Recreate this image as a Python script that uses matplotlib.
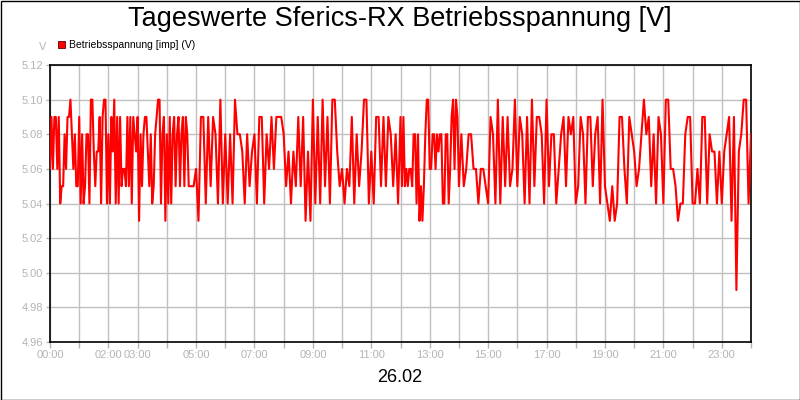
import numpy as np
import matplotlib
matplotlib.use('Agg')
import matplotlib.pyplot as plt
from matplotlib.patches import Rectangle

plt.rcParams['font.family'] = ['Liberation Sans', 'DejaVu Sans']

title = 'Tageswerte Sferics-RX Betriebsspannung [V]'
day_label = '26.02'
series_name = 'Betriebsspannung [imp] (V)'

# 00:00 - 04:45, read every 3 minutes
volts_early = [
    5.06, 5.09, 5.06, 5.09, 5.09, 5.06, 5.09, 5.04, 5.05, 5.05,
    5.08, 5.06, 5.09, 5.09, 5.10, 5.08, 5.06, 5.08, 5.05, 5.05,
    5.09, 5.04, 5.08, 5.04, 5.05, 5.08, 5.08, 5.04, 5.10, 5.10,
    5.07, 5.05, 5.07, 5.07, 5.09, 5.04, 5.09, 5.10, 5.10, 5.04,
    5.08, 5.04, 5.09, 5.07, 5.10, 5.04, 5.09, 5.04, 5.09, 5.05,
    5.06, 5.06, 5.05, 5.09, 5.05, 5.09, 5.04, 5.09, 5.08, 5.07,
    5.09, 5.03, 5.08, 5.05, 5.08, 5.09, 5.09, 5.07, 5.05, 5.08,
    5.04, 5.05, 5.08, 5.09, 5.10, 5.10, 5.04, 5.08, 5.09, 5.03,
    5.08, 5.04, 5.09, 5.04, 5.08, 5.09, 5.05, 5.08, 5.09, 5.05,
    5.08, 5.09, 5.05, 5.09, 5.08, 5.05,
]
# 04:50 - 11:55, read every 5 minutes
volts_morning = [
    5.05, 5.05,
    5.06, 5.03, 5.09, 5.09, 5.04, 5.09, 5.05, 5.09, 5.08, 5.04, 5.10, 5.04,
    5.08, 5.04, 5.08, 5.04, 5.10, 5.08, 5.08, 5.07, 5.04, 5.08, 5.05, 5.07,
    5.08, 5.04, 5.09, 5.09, 5.04, 5.08, 5.06, 5.09, 5.06, 5.09, 5.09, 5.09,
    5.08, 5.05, 5.07, 5.04, 5.07, 5.05, 5.09, 5.05, 5.09, 5.03, 5.07, 5.03,
    5.10, 5.04, 5.09, 5.04, 5.10, 5.05, 5.09, 5.04, 5.10, 5.10, 5.07, 5.05,
    5.06, 5.04, 5.06, 5.05, 5.09, 5.04, 5.08, 5.05, 5.07, 5.10, 5.10, 5.04,
    5.07, 5.04, 5.09, 5.09, 5.05, 5.09, 5.05, 5.09, 5.08, 5.05, 5.08, 5.04,
]
# 12:00 - 14:00, read every 3 minutes
volts_noon = [
    5.09, 5.05, 5.09, 5.05, 5.06, 5.05, 5.06, 5.06, 5.05, 5.08,
    5.08, 5.04, 5.08, 5.03, 5.05, 5.03, 5.05, 5.08, 5.10, 5.10,
    5.06, 5.06, 5.08, 5.08, 5.06, 5.08, 5.07, 5.08, 5.08, 5.04,
    5.04, 5.08, 5.08, 5.04, 5.06, 5.09, 5.10, 5.06, 5.10, 5.09,
    5.05,
]
# 14:05 - 24:00, read every 5 minutes
volts_late = [
    5.08, 5.05, 5.06, 5.08, 5.08, 5.06, 5.06, 5.04, 5.06, 5.06, 5.05,
    5.04, 5.09, 5.08, 5.04, 5.10, 5.04, 5.09, 5.05, 5.09, 5.05, 5.06, 5.10,
    5.05, 5.09, 5.08, 5.04, 5.09, 5.04, 5.10, 5.05, 5.09, 5.09, 5.08, 5.04,
    5.10, 5.05, 5.08, 5.08, 5.04, 5.06, 5.08, 5.09, 5.05, 5.09, 5.08, 5.09,
    5.04, 5.05, 5.09, 5.08, 5.04, 5.09, 5.09, 5.05, 5.08, 5.09, 5.04, 5.10,
    5.05, 5.04, 5.03, 5.05, 5.03, 5.04, 5.09, 5.09, 5.06, 5.04, 5.09, 5.08,
    5.07, 5.05, 5.06, 5.08, 5.10, 5.08, 5.09, 5.05, 5.08, 5.04, 5.09, 5.08,
    5.04, 5.10, 5.10, 5.06, 5.06, 5.05, 5.03, 5.04, 5.04, 5.08, 5.09, 5.09,
    5.04, 5.04, 5.06, 5.04, 5.09, 5.09, 5.04, 5.08, 5.07, 5.07, 5.04, 5.07,
    5.04, 5.07, 5.08, 5.09, 5.03, 5.09, 4.99, 5.07, 5.08, 5.10, 5.10, 5.04,
    5.08,
]

# (start minute, step in minutes, values)
segments = [(0, 3, volts_early), (290, 5, volts_morning),
            (720, 3, volts_noon), (845, 5, volts_late)]
hours = np.concatenate([(start + step * np.arange(len(v))) / 60.0
                        for start, step, v in segments])
volts = np.concatenate([v for _, _, v in segments])

tick_hours = list(range(25))
labelled = [0, 2, 3, 5, 7, 9, 11, 13, 15, 17, 19, 21, 23]
tick_labels = ['%02d:00' % h if h in labelled else '' for h in tick_hours]
y_ticks = [4.96, 4.98, 5.00, 5.02, 5.04, 5.06, 5.08, 5.10, 5.12]

grey = '#b4b4b4'

fig = plt.figure(figsize=(8, 4), dpi=100)
ax = fig.add_axes([50/800, 58/400, 701/800, 277/400])

ax.plot(hours, volts, color='#ff0000', lw=1.5, zorder=3)

ax.set_xlim(0, 24)
ax.set_ylim(4.96, 5.12)
ax.set_xticks(tick_hours)
ax.set_xticklabels(tick_labels)
ax.set_yticks(y_ticks)
ax.set_yticklabels(['%.2f' % v for v in y_ticks])
ax.grid(True, color='#c0c0c0', lw=1)
ax.set_axisbelow(True)
ax.tick_params(axis='both', colors=grey, labelcolor=grey, labelsize=8,
               length=4, width=1)
ax.tick_params(axis='x', pad=2)
ax.tick_params(axis='y', length=3, pad=2)
for s in ax.spines.values():
    s.set_color('black')
    s.set_linewidth(1.2)

fig.text(0.5, 1 - 19/400, title, ha='center', va='center', fontsize=19.5)
fig.text(0.5, 1 - 378/400, day_label, ha='center', va='center', fontsize=13)
fig.text(43/800, 1 - 47/400, 'V', ha='center', va='center', fontsize=8, color=grey)

fig.patches.append(Rectangle((58/800, 1 - 48/400), 7/800, 7/400,
                             transform=fig.transFigure, facecolor='#ff0000',
                             edgecolor='#600000', lw=0.6))
fig.text(69/800, 1 - 44.5/400, series_name, ha='left', va='center', fontsize=7.5)

fig.patches.append(Rectangle((0.5/800, 0.5/400), 799/800, 399/400,
                             transform=fig.transFigure, fill=False,
                             edgecolor='black', lw=1))

fig.savefig('out.png', dpi=100)
